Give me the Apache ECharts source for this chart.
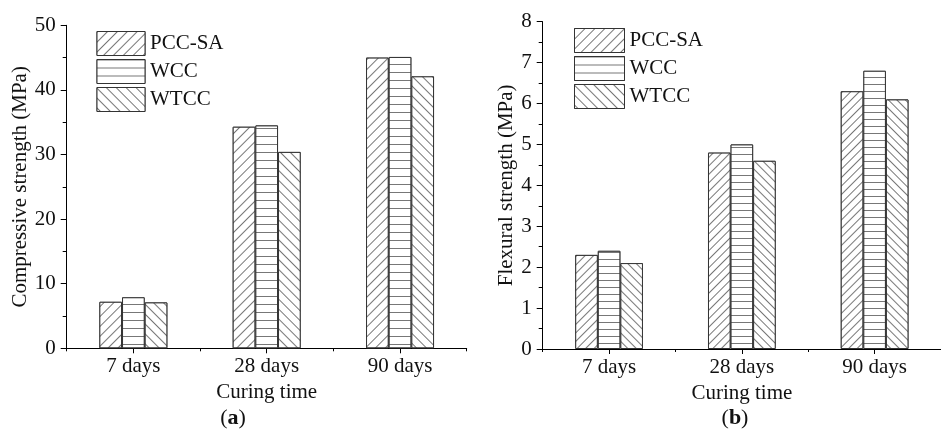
<!DOCTYPE html>
<html>
<head>
<meta charset="utf-8">
<script src="https://cdn.jsdelivr.net/npm/echarts@6/dist/echarts.min.js"></script>
<style>
  html, body { margin: 0; padding: 0; background: #fff; }
  #chart { width: 941px; height: 435px; }
</style>
</head>
<body>
<div id="chart"></div>
<script>
// data
var categories = ['7 days', '28 days', '90 days'];
var seriesNames = ['PCC-SA', 'WCC', 'WTCC'];
var compressive = {
  'PCC-SA': [7.2, 34.3, 45.0],
  'WCC': [7.9, 34.5, 45.1],
  'WTCC': [7.1, 30.4, 42.1]
};
var flexural = {
  'PCC-SA': [2.3, 4.8, 6.3],
  'WCC': [2.4, 5.0, 6.8],
  'WTCC': [2.1, 4.6, 6.1]
};

var FONT = 'Liberation Serif';
var TXT = '#111';
var FS = 21;

function hatch(name, period) {
  var d = { symbol: 'rect', symbolSize: 1, dashArrayX: [1, 0], dashArrayY: [1, period - 1],
            color: '#777', backgroundColor: '#fff' };
  if (name === 'PCC-SA') d.rotation = -Math.PI / 4;
  if (name === 'WTCC') d.rotation = Math.PI / 4;
  if (name === 'WCC') d.dashArrayY = [1, period];
  return d;
}

function yAxis(grid, max, interval, name, gap) {
  return {
    type: 'value', gridIndex: grid, min: 0, max: max, interval: interval,
    name: name, nameLocation: 'middle', nameGap: gap,
    nameTextStyle: { fontFamily: FONT, fontSize: FS, color: TXT },
    axisLine: { show: true, lineStyle: { color: '#000', width: 1 } },
    axisTick: { show: true, inside: false, length: 6, lineStyle: { color: '#000' } },
    minorTick: { show: true, splitNumber: 2, length: 4, lineStyle: { color: '#000' } },
    splitLine: { show: false },
    axisLabel: { fontFamily: FONT, fontSize: FS, color: TXT, margin: 11 }
  };
}

function xAxes(grid) {
  return [{
    type: 'category', gridIndex: grid, data: categories, position: 'bottom',
    name: 'Curing time', nameLocation: 'middle', nameGap: 31,
    nameTextStyle: { fontFamily: FONT, fontSize: FS, color: TXT },
    axisLine: { show: true, lineStyle: { color: '#000', width: 1 } },
    axisTick: { show: true, alignWithLabel: true, length: 5, lineStyle: { color: '#000' } },
    axisLabel: { fontFamily: FONT, fontSize: FS, color: TXT, margin: 8 }
  }, {
    type: 'category', gridIndex: grid, data: categories, position: 'bottom',
    axisLine: { show: false },
    axisTick: { show: true, length: 3, lineStyle: { color: '#000' } },
    axisLabel: { show: false }
  }];
}

var series = [];
seriesNames.forEach(function (n) {
  series.push({
    name: n, type: 'bar', xAxisIndex: 0, yAxisIndex: 0, data: compressive[n],
    barGap: '0%', barCategoryGap: '49%',
    itemStyle: { color: '#fff', borderColor: '#333', borderWidth: 1, decal: hatch(n, 7) }
  });
});
seriesNames.forEach(function (n) {
  series.push({
    name: n, type: 'bar', xAxisIndex: 2, yAxisIndex: 1, data: flexural[n],
    barGap: '0%', barCategoryGap: '49%',
    itemStyle: { color: '#fff', borderColor: '#333', borderWidth: 1, decal: hatch(n, 6) }
  });
});

function legend(left, top, w) {
  return {
    data: seriesNames, orient: 'vertical', left: left, top: top, padding: 0,
    itemWidth: w, itemHeight: 24, itemGap: 3, icon: 'rect',
    itemStyle: { borderWidth: 1, borderColor: '#333' },
    textStyle: { fontFamily: FONT, fontSize: FS, color: TXT }
  };
}

var chart = echarts.init(document.getElementById('chart'), null, { renderer: 'canvas' });
chart.setOption({
  animation: false,
  backgroundColor: '#fff',
  grid: [
    { left: 66.7, top: 25.3, width: 400, height: 323 },
    { left: 542.7, top: 21.7, width: 406, height: 327.3 }
  ],
  xAxis: xAxes(0).concat(xAxes(1)),
  yAxis: [
    yAxis(0, 50, 10, 'Compressive strength (MPa)', 33),
    yAxis(1, 8, 1, 'Flexural strength (MPa)', 23)
  ],
  legend: [legend(96.5, 31, 48), legend(574, 28, 50)],
  series: series,
  graphic: [
    { type: 'text', x: 233, y: 407, style: { text: '({b|a})', fontFamily: FONT, fontSize: 22, fill: TXT, align: 'center',
      rich: { b: { fontFamily: FONT, fontSize: 22, fontWeight: 'bold', color: TXT } } } },
    { type: 'text', x: 735, y: 407, style: { text: '({b|b})', fontFamily: FONT, fontSize: 22, fill: TXT, align: 'center',
      rich: { b: { fontFamily: FONT, fontSize: 22, fontWeight: 'bold', color: TXT } } } }
  ]
});
</script>
</body>
</html>
